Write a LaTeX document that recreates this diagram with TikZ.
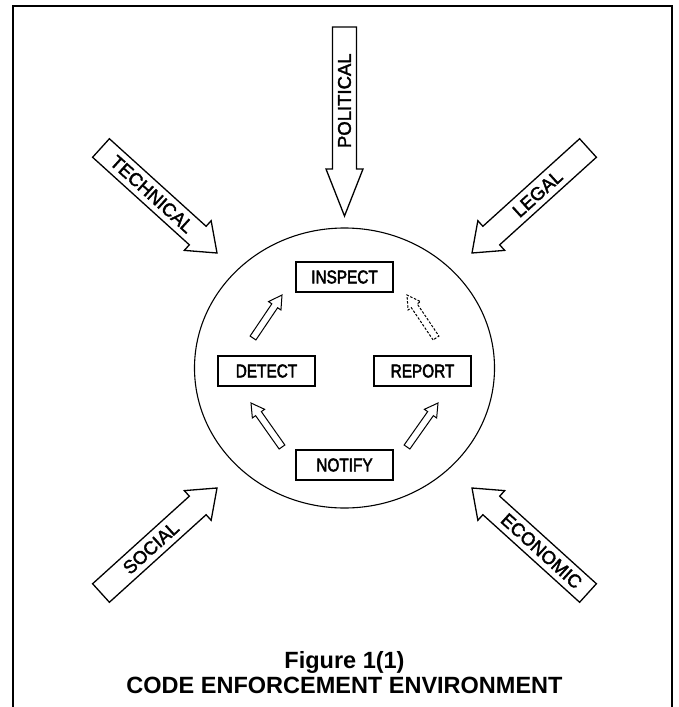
\documentclass[tikz,border=0pt]{standalone}
\usepackage{fontspec}
\setmainfont{Liberation Sans}
\newfontfamily\boxfont[FakeStretch=0.83,FakeBold=2.5]{Liberation Sans}
\newfontfamily\forcefont[FakeBold=2]{Liberation Sans}
\usetikzlibrary{calc,shapes.geometric}

% Hollow block arrow from tail #2 to tip #3:
% #1 style, #4 shaft half width, #5 head half width, #6 head length
\newcommand{\hollowarrow}[6]{%
  \coordinate (ha-base) at ($(#3)!#6!(#2)$);
  \draw[#1] ($(#2)!#4!90:(#3)$) -- ($(ha-base)!#4!90:(#3)$) -- ($(ha-base)!#5!90:(#3)$) -- (#3)
    -- ($(ha-base)!#5!-90:(#3)$) -- ($(ha-base)!#4!-90:(#3)$) -- ($(#2)!#4!-90:(#3)$) -- cycle;}

\begin{document}
\begin{tikzpicture}[x=1pt,y=-1pt,
  frame/.style={line width=2.8pt},
  env/.style={draw, ellipse, line width=1.1pt, minimum width=300pt, minimum height=280pt, inner sep=0pt},
  stage/.style={draw, line width=1.4pt, minimum width=97pt, minimum height=30pt, inner sep=0pt,
    font=\boxfont\fontsize{18.5}{20}\selectfont},
  force/.style={line width=1.3pt, line join=miter, fill=white},
  forcelabel/.style={inner sep=0pt, font=\forcefont\fontsize{18.5}{20}\selectfont},
  flow/.style={line width=1pt, line join=miter},
  flowdashed/.style={flow, dash pattern=on 2.5pt off 1.6pt},
  caption/.style={font=\bfseries\fontsize{23.5}{25}\selectfont, inner sep=0pt, anchor=base}]
\useasboundingbox (0,0) rectangle (678,707);

% open frame
\draw[frame] (13,707) -- (13,6) -- (672,6) -- (672,707);

% enforcement environment
\node[env] (env) at (344.5,368) {};

% enforcement stages
\node[stage] (inspect) at (344.5,277) {INSPECT};
\node[stage] (detect)  at (266.5,371) {DETECT};
\node[stage] (report)  at (422.5,371) {REPORT};
\node[stage] (notify)  at (344.5,465) {NOTIFY};

% flow between stages
\coordinate (di-t) at (253,338); \coordinate (di-h) at (282,295);
\coordinate (ri-t) at (436,338); \coordinate (ri-h) at (407,295);
\coordinate (nd-t) at (282,447); \coordinate (nd-h) at (251,403);
\coordinate (nr-t) at (407,447); \coordinate (nr-h) at (438,403);
\hollowarrow{flow}{di-t}{di-h}{3.5pt}{7.5pt}{13pt}
\hollowarrow{flowdashed}{ri-t}{ri-h}{3.5pt}{7.5pt}{13pt}
\hollowarrow{flow}{nd-t}{nd-h}{3.5pt}{7.5pt}{13pt}
\hollowarrow{flow}{nr-t}{nr-h}{3.5pt}{7.5pt}{13pt}

% outside forces
\coordinate (pol-t) at (344.5,27);  \coordinate (pol-h) at (344.5,216);
\coordinate (tec-t) at (101,148);   \coordinate (tec-h) at (217,253);
\coordinate (leg-t) at (588,148);   \coordinate (leg-h) at (472,253);
\coordinate (soc-t) at (101,593);   \coordinate (soc-h) at (217,488);
\coordinate (eco-t) at (588,593);   \coordinate (eco-h) at (472,488);
\hollowarrow{force}{pol-t}{pol-h}{12pt}{18.5pt}{47pt}
\hollowarrow{force}{tec-t}{tec-h}{12.5pt}{20pt}{26pt}
\hollowarrow{force}{leg-t}{leg-h}{12.5pt}{20pt}{26pt}
\hollowarrow{force}{soc-t}{soc-h}{12.5pt}{20pt}{26pt}
\hollowarrow{force}{eco-t}{eco-h}{12.5pt}{20pt}{26pt}

\node[forcelabel, rotate=90]     (political) at ($(pol-t)!0.39!(pol-h)$) {POLITICAL};
\node[forcelabel, rotate=-42.15] (technical) at ($(tec-t)!0.44!(tec-h)$) {TECHNICAL};
\node[forcelabel, rotate=42.15]  (legal)     at ($(leg-t)!0.435!(leg-h)$) {LEGAL};
\node[forcelabel, rotate=42.15]  (social)    at ($(soc-t)!0.43!(soc-h)$) {SOCIAL};
\node[forcelabel, rotate=-42.15] (economic)  at ($(eco-t)!0.40!(eco-h)$) {ECONOMIC};

% caption
\node[caption] (cap1) at (344.5,668) {Figure 1(1)};
\node[caption] (cap2) at (344.5,693) {CODE ENFORCEMENT ENVIRONMENT};
\end{tikzpicture}
\end{document}
